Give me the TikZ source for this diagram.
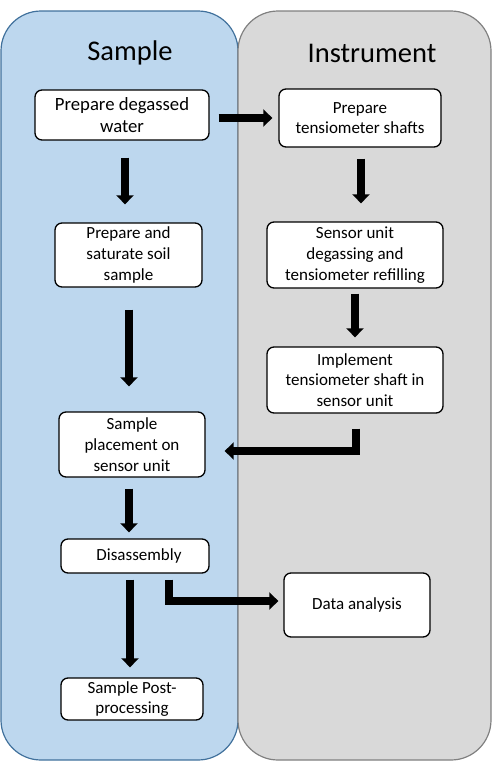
\documentclass[tikz,border=0pt]{standalone}
\usepackage{fontspec}
\setmainfont{Carlito}
\usetikzlibrary{arrows.meta,calc}
\begin{document}
\begin{tikzpicture}[x=1pt,y=-1pt,
  panelA/.style={draw=bluedraw, fill=bluefill, line width=1.2pt, rounded corners=40pt},
  panelB/.style={draw=graydraw, fill=grayfill, line width=1.2pt, rounded corners=40pt},
  stepbox/.style={draw=black, fill=white, line width=1.3pt, rounded corners=7pt, align=center, font=\fontsize{17}{20.7}\selectfont, inner sep=0pt},
  blk/.style={line width=8pt, draw=black, line join=miter, -{Triangle[width=17pt,length=9pt]}},
  title/.style={font=\fontsize{28.5}{32}\selectfont}
]
\definecolor{bluefill}{HTML}{BDD7EE}
\definecolor{bluedraw}{HTML}{41719C}
\definecolor{grayfill}{HTML}{D9D9D9}
\definecolor{graydraw}{HTML}{808080}
\useasboundingbox (0,0) rectangle (493,772);
\draw[panelA] (1,11) rectangle (238,760);
\draw[panelB] (238,11) rectangle (491,760);
\node[title] (tS) at (130,53) {Sample};
\node[title] (tI) at (372,53) {Instrument};

\node[stepbox, minimum width=174pt, minimum height=50pt, font=\fontsize{18.7}{22.7}\selectfont] (a) at (122,115) {Prepare degassed\\water};
\node[stepbox, minimum width=162pt, minimum height=58pt] (b) at (360,118) {Prepare\\tensiometer shafts};
\node[stepbox, minimum width=147pt, minimum height=64pt] (c) at (128.5,255) {Prepare and\\saturate soil\\sample};
\node[stepbox, minimum width=176pt, minimum height=66pt] (d) at (355,255) {Sensor unit\\degassing and\\tensiometer refilling};
\node[stepbox, minimum width=176pt, minimum height=66pt] (e) at (355,380) {Implement\\tensiometer shaft in\\sensor unit};
\node[stepbox, minimum width=146pt, minimum height=65pt] (f) at (132,444.5) {Sample\\placement on\\sensor unit};
\node[stepbox, minimum width=148pt, minimum height=34pt] (g) at (135,556) {\hspace*{8pt}Disassembly};
\node[stepbox, minimum width=146pt, minimum height=64pt] (h) at (357,605) {Data analysis};
\node[stepbox, minimum width=142pt, minimum height=42pt] (i) at (132,699) {Sample Post-\\processing};

\draw[blk] ($(a.east)+(9,3)$) -- ($(b.west)+(-6,0)$);
\draw[blk] ($(a.south)+(3,17)$) -- ($(c.north)+(-3.5,-18)$);
\draw[blk] ($(b.south)+(1,11)$) -- ($(d.north)+(6,-18)$);
\draw[blk] ($(d.south)+(0,5)$) -- ($(e.north)+(0,-9)$);
\draw[blk] ($(c.south)+(0.5,22)$) -- ($(f.north)+(-3,-25)$);
\draw[blk] ($(e.south)+(1,15)$) |- ($(f.east)+(19,6.5)$);
\draw[blk] ($(f.south)+(-3,11)$) -- ($(g.north)+(-6,-6)$);
\draw[blk] ($(g.south)+(-5,6)$) -- ($(i.north)+(-2,-10)$);
\draw[blk] ($(g.south)+(34,6)$) |- ($(h.west)+(-5,-4)$);
\end{tikzpicture}
\end{document}
